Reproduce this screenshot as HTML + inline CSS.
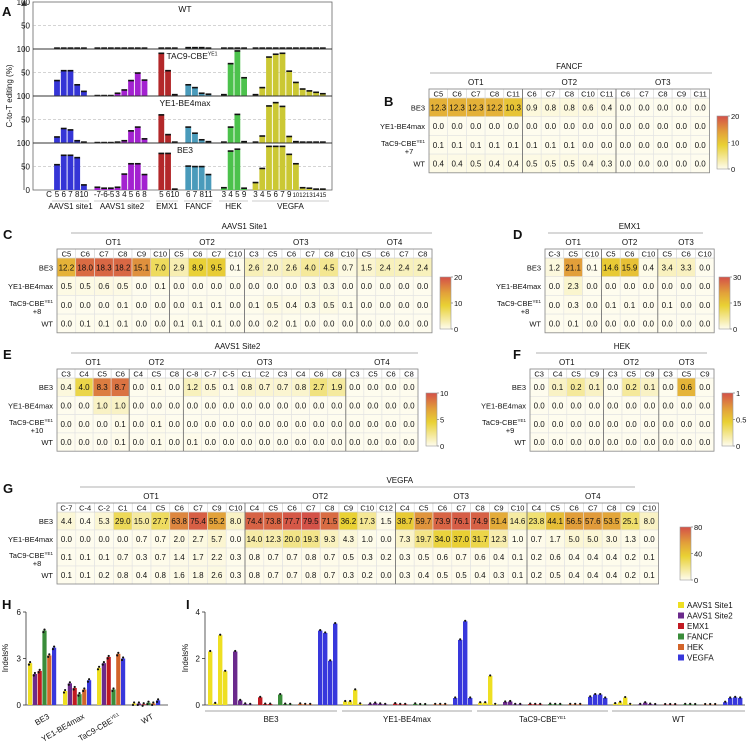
<!DOCTYPE html>
<html><head><meta charset="utf-8">
<style>
html,body{margin:0;padding:0;background:#fff;}
svg{display:block;font-family:"Liberation Sans",Arial,sans-serif;}
</style></head>
<body>
<svg id="fig" width="748" height="741" viewBox="0 0 748 741" xmlns="http://www.w3.org/2000/svg"></svg>
<script>
// ===== Panel A data =====
const aGroups = ["AAVS1 site1","AAVS1 site2","EMX1","FANCF","HEK","VEGFA"];
const aCatLabels = [["5","6","7","8","10"],["-7","-6","-5","3","4","5","6","8"],["5","6","10"],["6","7","8","11"],["3","4","5","9"],["3","4","5","6","7","9","10","12","13","14","15"]];
const aPanels = ["WT","TAC9-CBE","YE1-BE4max","BE3"];
const aWT   = [[1,1,1,1,1],[1,1,1,1,1,1,1,1],[1,1,1],[2,2,2,1],[1,1,1,1],[1,1,1,1,1,1,1,1,1,1,1]];
const aTAC9 = [[32,53,53,23,9],[0,0,0,5,12,32,48,33],[90,53,2],[23,17,5,3],[2,68,95,38],[2,17,82,88,90,52,28,14,10,7,4]];
const aYE1  = [[12,30,27,4,1],[0,0,0,1,4,25,33,8],[59,17,1],[33,20,6,2],[1,33,60,2],[1,14,78,85,77,13,2,1,1,1,1]];
const aBE3  = [[53,73,73,68,10],[5,3,3,5,33,55,55,32],[77,77,1],[50,49,49,32],[4,82,86,3],[15,45,92,92,92,75,55,4,3,1,1]];
const aColors = ["#3535d6","#a322d0","#b3282a","#4a9bbb","#4cc24c","#cbc834"];

// ===== Heatmap data =====
const rowNames = ["BE3","YE1-BE4max","TaC9-CBE","WT"];
// B FANCF
const bGroups = ["OT1","OT2","OT3"];
const bCols = [["C5","C6","C7","C8","C11"],["C6","C7","C8","C10","C11"],["C6","C7","C8","C9","C11"]];
const bBE3 = [12.3,12.3,12.3,12.2,10.3,0.9,0.8,0.8,0.6,0.4,0,0,0,0,0];
const bYE1 = [0,0,0,0,0,0,0,0,0,0,0,0,0,0,0];
const bTaC9 = [0.1,0.1,0.1,0.1,0.1,0.1,0.1,0.1,0,0,0,0,0,0,0];
const bWT = [0.4,0.4,0.5,0.4,0.4,0.5,0.5,0.5,0.4,0.3,0,0,0,0,0];
const bTicks = ["20","10","0"];
// C AAVS1 Site1
const cGroups = ["OT1","OT2","OT3","OT4"];
const cCols = [["C5","C6","C7","C8","C9","C10"],["C5","C6","C7","C10"],["C3","C5","C6","C7","C8","C10"],["C5","C6","C7","C8"]];
const cBE3 = [12.2,18.0,18.3,18.2,15.1,7.0,2.9,8.9,9.5,0.1,2.6,2.0,2.6,4.0,4.5,0.7,1.5,2.4,2.4,2.4];
const cYE1 = [0.5,0.5,0.6,0.5,0,0.1,0,0,0,0,0,0,0,0.3,0.3,0,0,0,0,0];
const cTaC9 = [0,0,0,0.1,0,0,0,0.1,0.1,0,0.1,0.5,0.4,0.3,0.5,0.1,0,0,0,0];
const cWT = [0,0.1,0.1,0.1,0,0,0.1,0.1,0.1,0,0,0.2,0.1,0,0,0,0,0,0,0];
const cTicks = ["20","10","0"];
// D EMX1
const dGroups = ["OT1","OT2","OT3"];
const dCols = [["C-3","C5","C10"],["C5","C6","C10"],["C5","C6","C10"]];
const dBE3 = [1.2,21.1,0.1,14.6,15.9,0.4,3.4,3.3,0];
const dYE1 = [0,2.3,0,0,0,0,0,0,0];
const dTaC9 = [0,0.3,0,0.1,0.1,0,0.1,0,0];
const dWT = [0,0.1,0,0,0,0,0,0,0];
const dTicks = ["30","15","0"];
// E AAVS1 Site2
const eGroups = ["OT1","OT2","OT3","OT4"];
const eCols = [["C3","C4","C5","C6"],["C4","C5","C8"],["C-8","C-7","C-5","C1","C2","C3","C4","C6","C8"],["C3","C5","C6","C8"]];
const eBE3 = [0.4,4.0,8.3,8.7,0,0.1,0,1.2,0.5,0.1,0.8,0.7,0.7,0.8,2.7,1.9,0,0,0,0];
const eYE1 = [0,0,1.0,1.0,0,0,0,0,0,0,0,0,0,0,0,0,0,0,0,0];
const eTaC9 = [0,0,0,0.1,0,0.1,0,0,0,0,0,0,0,0,0,0,0,0,0,0];
const eWT = [0,0,0,0.1,0,0.1,0,0.1,0,0,0,0,0,0,0,0,0,0,0,0];
const eTicks = ["10","5","0"];
// F HEK
const fGroups = ["OT1","OT2","OT3"];
const fCols = [["C3","C4","C5","C9"],["C3","C5","C9"],["C3","C5","C9"]];
const fBE3 = [0,0.1,0.2,0.1,0,0.2,0.1,0,0.6,0];
const fYE1 = [0,0,0,0,0,0,0,0,0,0];
const fTaC9 = [0,0,0,0,0,0,0,0,0,0];
const fWT = [0,0,0,0,0,0,0,0,0,0];
const fTicks = ["1","0.5","0"];
// G VEGFA
const gGroups = ["OT1","OT2","OT3","OT4"];
const gCols = [["C-7","C-4","C-2","C1","C4","C5","C6","C7","C9","C10"],["C4","C5","C6","C7","C8","C9","C10","C12"],["C4","C5","C6","C7","C8","C9","C10"],["C4","C5","C6","C7","C8","C9","C10"]];
const gBE3 = [4.4,0.4,5.3,29.0,15.0,27.7,63.8,75.4,55.2,8.0,74.4,73.8,77.7,79.5,71.5,36.2,17.3,1.5,38.7,59.7,73.9,76.1,74.9,51.4,14.6,23.8,44.1,56.5,57.6,53.5,25.1,8.0];
const gYE1 = [0,0,0,0,0.7,0.7,2.0,2.7,5.7,0,14.0,12.3,20.0,19.3,9.3,4.3,1.0,0,7.3,19.7,34.0,37.0,31.7,12.3,1.0,0.7,1.7,5.0,5.0,3.0,1.3,0];
const gTaC9 = [0.1,0.1,0.1,0.7,0.3,0.7,1.4,1.7,2.2,0.3,0.8,0.7,0.7,0.8,0.7,0.5,0.3,0.2,0.3,0.5,0.6,0.7,0.6,0.4,0.1,0.2,0.6,0.4,0.4,0.4,0.2,0.1];
const gWT = [0.1,0.1,0.2,0.8,0.4,0.8,1.6,1.8,2.6,0.3,0.8,0.7,0.7,0.8,0.7,0.3,0.2,0,0.3,0.4,0.5,0.5,0.4,0.3,0.1,0.2,0.5,0.4,0.4,0.4,0.2,0.1];
const gTicks = ["80","40","0"];

// ===== Panel H data =====
const hGroups = ["BE3","YE1-BE4max","TaC9-CBE","WT"];
const hTargets = ["AAVS1 Site1","AAVS1 Site2","EMX1","FANCF","HEK","VEGFA"];
const hBE3 = [2.7,2.0,2.2,4.8,3.2,3.7];
const hYE1 = [0.9,1.4,1.1,0.7,1.0,1.6];
const hTaC9 = [2.4,2.7,3.1,1.0,3.3,3.0];
const hWT = [0.1,0.1,0.05,0.15,0.1,0.3];
const hTicks = [0,3,6];
const tColors = ["#eedf22","#6b2a8c","#c11a22","#3a8c3a","#d2642a","#3838dc"];

// ===== Panel I data (per group: target arrays of off-target values) =====
const iBE3 = [[2.3,0.07,3.0,1.45],[2.3,0.2,0.05,0.03],[0.33,0.04,0.04],[0.45,0.04,0.03],[0.05,0.03,0.03],[3.2,3.1,1.9,3.5]];
const iYE1 = [[0.15,0.15,0.65,0.05],[0.05,0.08,0.05,0.03],[0.06,0.03,0.03],[0.05,0.02,0.02],[0.03,0.03,0.03],[0.3,2.8,3.6,0.3]];
const iTaC9 = [[0.1,0.1,1.25,0.03],[0.13,0.15,0.03,0.03],[0.04,0.03,0.03],[0.04,0.03,0.03],[0.03,0.03,0.03],[0.35,0.45,0.45,0.3]];
const iWT = [[0.06,0.12,0.32,0.03],[0.03,0.1,0.04,0.02],[0.02,0.02,0.02],[0.03,0.03,0.02],[0.02,0.02,0.02],[0.12,0.3,0.33,0.3]];
const iTicks = [0,2,4];

const NS="http://www.w3.org/2000/svg";
const svg=document.getElementById('fig');
function mk(tag,attrs,parent,text){const e=document.createElementNS(NS,tag);for(const k in attrs)e.setAttribute(k,attrs[k]);if(text!==undefined)e.textContent=text;(parent||svg).appendChild(e);return e;}
function grp(name,parent){const g=mk('g',{},parent);return g;}
function txt(parent,x,y,s,size,anchor,name,extra){const t=mk('text',Object.assign({x:x,y:y,'font-size':size,'text-anchor':anchor||'start',fill:'#111'},extra||{}),parent,s);return t;}
function supText(parent,x,y,base,sup,size,anchor,name){const t=mk('text',{x:x,y:y,'font-size':size,'text-anchor':anchor,fill:'#111'},parent);mk('tspan',{},t,base);mk('tspan',{'font-size':size*0.6,dy:-size*0.4},t,sup);return t;}
function panelLetter(x,y,s){const t=txt(svg,x,y,s,13,'start','panel-label-'+s.toLowerCase(),{'font-weight':'bold'});}

// ===== Panel A =====
panelLetter(2,16,'A');
(function(){
  const g=grp('panel-a-chart');
  const L=33,R=332,top=2,subH=47;
  const slots=[[0,1,2,3,4],[6,7,8,9,10,11,12,13],[15.5,16.5,17.5],[19.5,20.5,21.5,22.5],[24.8,25.8,26.8,27.8],[29.5,30.5,31.5,32.5,33.5,34.5,35.5,36.5,37.5,38.5,39.5]];
  const xOf=s=>57+s*6.73;
  const datasets=[aWT,aTAC9,aYE1,aBE3];
  const yAxis=grp('y-axis',g);
  mk('line',{x1:24,y1:190,x2:24,y2:3,stroke:'#444','stroke-width':0.8},yAxis);
  mk('path',{d:'M21,6 L24,0 L27,6 Z',fill:'#444'},yAxis);
  const yt=txt(yAxis,12,96,'C-to-T editing (%)',8,'middle','y-axis-title',{transform:'rotate(-90 12 96)'});
  mk('rect',{x:L,y:top,width:R-L,height:subH*4,fill:'none',stroke:'#666','stroke-width':0.8},g);
  for(let p=0;p<4;p++){
    const y0=top+p*subH, yb=y0+subH;
    const sg=grp('subpanel-'+aPanels[p].toLowerCase(),g);
    mk('line',{x1:L,x2:R,y1:y0+subH/2,y2:y0+subH/2,stroke:'#aaa','stroke-width':0.6,'stroke-dasharray':'3,2'},sg);
    if(p>0) mk('line',{x1:L,x2:R,y1:y0,y2:y0,stroke:'#333','stroke-width':1},sg);
    txt(yAxis,30,y0+3,'100',8,'end','y-tick-100');
    txt(yAxis,30,y0+subH/2+3,'50',8,'end','y-tick-50');
    if(p===1) supText(sg,192,y0+10,'TAC9-CBE','YE1',8.5,'middle','subpanel-title');
    else txt(sg,185,y0+10,aPanels[p],8.5,'middle','subpanel-title');
    const data=datasets[p];
    for(let gi=0;gi<data.length;gi++){
      for(let j=0;j<data[gi].length;j++){
        const v=data[gi][j], x=xOf(slots[gi][j]), h=v/100*subH;
        const b=mk('rect',{x:x-2.9,y:yb-h,width:5.8,height:Math.max(h,0.3),fill:aColors[gi]},sg);
        
        
        mk('rect',{x:x-2.9,y:yb-h-1.2,width:5.8,height:1.6,fill:'#111'},sg);
      }
    }
  }
  txt(yAxis,30,193,'0',8,'end','y-tick-0');
  const xa=grp('x-axis',g);
  txt(xa,49,197,'C',8,'middle','x-axis-c-label');
  const gx=[[52,89],[94,150],[156,178],[184,213],[219,248],[252,329]];
  for(let gi=0;gi<aGroups.length;gi++){
    for(let j=0;j<aCatLabels[gi].length;j++){
      txt(xa,xOf(slots[gi][j]),197,aCatLabels[gi][j],aCatLabels[gi][j].length>1&&gi===5?6:8,'middle','x-tick-label');
    }
    mk('line',{x1:gx[gi][0],x2:gx[gi][1],y1:201,y2:201,stroke:'#999','stroke-width':0.6},xa);
    txt(xa,(gx[gi][0]+gx[gi][1])/2,209,aGroups[gi],8,'middle','x-group-label');
  }
})();

// ===== heatmap helper =====
function cscale(t){
  t=Math.max(0,Math.min(1,t));
  const st=[[0,[254,252,238]],[0.45,[233,209,52]],[0.7,[226,160,58]],[1,[212,80,72]]];
  for(let i=1;i<st.length;i++){if(t<=st[i][0]){const a=st[i-1],b=st[i];const f=(t-a[0])/(b[0]-a[0]);const c=a[1].map((v,k)=>Math.round(v+(b[1][k]-v)*f));return 'rgb('+c.join(',')+')';}}
  return 'rgb(212,80,72)';
}
function heatmap(o){
  const g=grp(o.name);
  const cols=[].concat(...o.cols), n=cols.length;
  const W=n*o.cw, hdrH=9, rh=o.rh;
  const dataTop=o.y+hdrH;
  txt(g,o.x+W/2+(o.titleDx||0),o.y-20,o.title,8,'middle','heatmap-title');
  mk('line',{x1:o.lineX1,x2:o.lineX2,y1:o.y-16,y2:o.y-16,stroke:'#999','stroke-width':0.7},g);
  // cells
  const rowsData=[o.r0,o.r1,o.r2,o.r3];
  for(let r=0;r<4;r++){
    for(let c=0;c<n;c++){
      const v=rowsData[r][c];
      const cell=mk('rect',{x:o.x+c*o.cw,y:dataTop+r*rh,width:o.cw,height:rh,fill:cscale(v/o.max),stroke:'#e2e2e2','stroke-width':0.6},g);
      
      
      txt(g,o.x+c*o.cw+o.cw/2,dataTop+r*rh+rh/2+3,v.toFixed(1),8,'middle','cell-value');
    }
    const ly=dataTop+r*rh+rh/2+3;
    if(r===2){supText(g,o.x-4,ly-2,'TaC9-CBE','YE1',7.5,'end','row-label-tac9');txt(g,o.x-20,ly+6,o.plus,7.5,'middle','row-label-plus');}
    else txt(g,o.x-4,ly,rowNames[r],7.5,'end','row-label-'+rowNames[r].toLowerCase());
  }
  // header
  let c0=0;
  for(let gi=0;gi<o.cols.length;gi++){
    const len=o.cols[gi].length;
    txt(g,o.x+(c0+len/2)*o.cw,o.y-4,o.groups[gi],8,'middle','group-label-'+o.groups[gi].toLowerCase());
    for(let j=0;j<len;j++){
      mk('rect',{x:o.x+(c0+j)*o.cw,y:o.y,width:o.cw,height:hdrH,fill:'#fff',stroke:'#ccc','stroke-width':0.5},g);
      txt(g,o.x+(c0+j+0.5)*o.cw,o.y+7.5,o.cols[gi][j],7.5,'middle','column-label');
    }
    if(gi>0) mk('line',{x1:o.x+c0*o.cw,x2:o.x+c0*o.cw,y1:o.y,y2:dataTop+4*rh,stroke:'#666','stroke-width':0.8},g);
    c0+=len;
  }
  mk('rect',{x:o.x,y:o.y,width:W,height:hdrH+4*rh,fill:'none',stroke:'#888','stroke-width':0.8},g);
  // colorbar
  const cb=grp('colorbar',g);
  const gid='grad-'+o.name;
  const defs=mk('defs',{},cb);
  const lg=mk('linearGradient',{id:gid,x1:0,y1:1,x2:0,y2:0},defs);
  [0,0.25,0.45,0.6,0.7,0.85,1].forEach(s=>mk('stop',{offset:s,'stop-color':cscale(s)},lg));
  mk('rect',{x:o.cbx,y:o.cby,width:11,height:o.cbh,fill:'url(#'+gid+')',stroke:'#999','stroke-width':0.6},cb);
  for(let k=0;k<3;k++){
    const yy=o.cby+k*o.cbh/2;
    mk('line',{x1:o.cbx+11,x2:o.cbx+13,y1:yy,y2:yy,stroke:'#666','stroke-width':0.6},cb);
    txt(cb,o.cbx+14,yy+3,o.ticks[k],7.5,'start','colorbar-tick');
  }
}

panelLetter(384,106,'B');
heatmap({name:'heatmap-b-fancf',title:'FANCF',x:429,y:89,cw:18.7,rh:18.7,lineX1:430,lineX2:712,groups:bGroups,cols:bCols,r0:bBE3,r1:bYE1,r2:bTaC9,r3:bWT,max:20,plus:'+7',ticks:bTicks,cbx:717,cby:116,cbh:53});
panelLetter(3,239,'C');
heatmap({name:'heatmap-c-aavs1-site1',title:'AAVS1 Site1',x:57,y:249,cw:18.75,rh:18.7,lineX1:71,lineX2:432,groups:cGroups,cols:cCols,r0:cBE3,r1:cYE1,r2:cTaC9,r3:cWT,max:20,plus:'+8',ticks:cTicks,cbx:440,cby:277,cbh:52});
panelLetter(513,239,'D');
heatmap({name:'heatmap-d-emx1',title:'EMX1',x:545,y:249,cw:18.8,rh:18.7,lineX1:548,lineX2:703,groups:dGroups,cols:dCols,r0:dBE3,r1:dYE1,r2:dTaC9,r3:dWT,max:30,plus:'+8',ticks:dTicks,cbx:719,cby:277,cbh:52});
panelLetter(3,359,'E');
heatmap({name:'heatmap-e-aavs1-site2',title:'AAVS1 Site2',x:57,y:369,cw:18.05,rh:18.3,lineX1:71,lineX2:418,groups:eGroups,cols:eCols,r0:eBE3,r1:eYE1,r2:eTaC9,r3:eWT,max:10,plus:'+10',ticks:eTicks,cbx:426,cby:393,cbh:53});
panelLetter(513,359,'F');
heatmap({name:'heatmap-f-hek',title:'HEK',x:530,y:369,cw:18.4,rh:18.3,lineX1:536,lineX2:707,groups:fGroups,cols:fCols,r0:fBE3,r1:fYE1,r2:fTaC9,r3:fWT,max:1,plus:'+9',ticks:fTicks,cbx:722,cby:393,cbh:53});
panelLetter(3,493,'G');
heatmap({name:'heatmap-g-vegfa',title:'VEGFA',x:57,y:503,cw:18.8,rh:18,lineX1:80,lineX2:635,titleDx:42,groups:gGroups,cols:gCols,r0:gBE3,r1:gYE1,r2:gTaC9,r3:gWT,max:80,plus:'+8',ticks:gTicks,cbx:680,cby:527,cbh:53});

// ===== Panel H =====
panelLetter(2,609,'H');
(function(){
  const g=grp('panel-h-chart');
  const x0=26,y0=705,yTop=612,xEnd=168,ymax=6;
  const ys=v=>y0-v/ymax*(y0-yTop);
  mk('line',{x1:x0,x2:x0,y1:yTop,y2:y0,stroke:'#333','stroke-width':0.8},g);
  mk('line',{x1:x0,x2:xEnd,y1:y0,y2:y0,stroke:'#333','stroke-width':0.8},g);
  hTicks.forEach(t=>{mk('line',{x1:x0-3,x2:x0,y1:ys(t),y2:ys(t),stroke:'#333','stroke-width':0.8},g);txt(g,x0-5,ys(t)+3,String(t),8,'end','y-tick');});
  txt(g,8,658,'Indels%',8,'middle','y-axis-title',{transform:'rotate(-90 8 658)'});
  const data=[hBE3,hYE1,hTaC9,hWT];
  const starts=[28,63,97,132];
  for(let gi=0;gi<4;gi++){
    for(let j=0;j<6;j++){
      const v=data[gi][j],x=starts[gi]+j*4.8;
      const b=mk('rect',{x:x,y:ys(v),width:4.2,height:y0-ys(v),fill:tColors[j]},g);
      
      
      mk('circle',{cx:x+2.1,cy:ys(v)-1,r:1.1,fill:'#111'},g);
      mk('circle',{cx:x+1,cy:ys(v)+1.5,r:1.1,fill:'#111'},g);
    }
    const cx=starts[gi]+12, ly=720;
    if(gi===2) supText(g,cx+12,ly-2,'TaC9-CBE','YE1',8,'end','x-group-label').setAttribute('transform','rotate(-30 '+(cx+12)+' '+(ly-2)+')');
    else txt(g,cx+10,ly-2,hGroups[gi],8,'end','x-group-label',{transform:'rotate(-30 '+(cx+10)+' '+(ly-2)+')'});
  }
})();

// ===== Panel I =====
panelLetter(186,609,'I');
(function(){
  const g=grp('panel-i-chart');
  const x0=205,y0=705,yTop=612,xEnd=745,ymax=4;
  const ys=v=>y0-v/ymax*(y0-yTop);
  mk('line',{x1:x0,x2:x0,y1:yTop,y2:y0,stroke:'#333','stroke-width':0.8},g);
  mk('line',{x1:x0,x2:xEnd,y1:y0,y2:y0,stroke:'#333','stroke-width':0.8},g);
  iTicks.forEach(t=>{mk('line',{x1:x0-3,x2:x0,y1:ys(t),y2:ys(t),stroke:'#333','stroke-width':0.8},g);txt(g,x0-5,ys(t)+3,String(t),8,'end','y-tick');});
  txt(g,188,658,'Indels%',8,'middle','y-axis-title',{transform:'rotate(-90 188 658)'});
  const data=[iBE3,iYE1,iTaC9,iWT];
  const starts=[208,343,478,613];
  const sub=[0,25,50,70,90,110];
  const spans=[[205,337],[342,472],[477,608],[612,745]];
  for(let gi=0;gi<4;gi++){
    for(let t=0;t<6;t++){
      for(let j=0;j<data[gi][t].length;j++){
        const v=data[gi][t][j],x=starts[gi]+sub[t]+j*5;
        const b=mk('rect',{x:x,y:ys(v),width:4.4,height:y0-ys(v),fill:tColors[t]},g);
        
        
        mk('circle',{cx:x+2.2,cy:ys(v)-0.5,r:1.1,fill:'#111'},g);
      }
    }
    mk('line',{x1:spans[gi][0],x2:spans[gi][1],y1:711,y2:711,stroke:'#888','stroke-width':0.7},g);
    const cx=(spans[gi][0]+spans[gi][1])/2;
    if(gi===2) supText(g,cx,722,'TaC9-CBE','YE1',8,'middle','x-group-label');
    else txt(g,cx,722,hGroups[gi],8,'middle','x-group-label');
  }
  const lg=grp('legend',g);
  hTargets.forEach((name,k)=>{
    const y=602+k*10.5;
    const e=grp('legend-entry-'+name.replace(/ /g,'-').toLowerCase(),lg);
    mk('rect',{x:678,y:y,width:6,height:6,fill:tColors[k]},e);
    txt(e,687,y+6,name,8,'start','legend-label');
  });
})();
</script>
</body></html>
